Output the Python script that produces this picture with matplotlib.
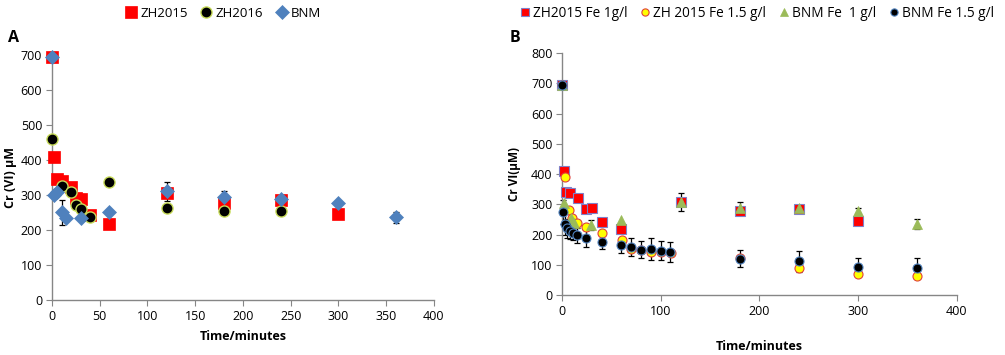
import numpy as np
import matplotlib.pyplot as plt

plt.rcParams['font.family'] = ['Open Sans', 'DejaVu Sans']

# ---- panel A data ----
a_zh15_t = [0, 2, 5, 10, 20, 25, 30, 40, 60, 120, 180, 240, 300]
a_zh15_v = [695, 410, 345, 340, 322, 290, 288, 243, 217, 305, 278, 285, 247]
a_zh15_e = [0, 0, 0, 0, 0, 0, 0, 12, 0, 0, 0, 0, 0]

a_zh16_t = [0, 10, 20, 25, 30, 40, 60, 120, 180, 240]
a_zh16_v = [460, 327, 309, 271, 259, 236, 338, 263, 253, 253]

a_bnm_t = [0, 2, 5, 10, 15, 30, 60, 120, 180, 240, 300, 360]
a_bnm_v = [695, 300, 308, 250, 233, 233, 252, 310, 293, 288, 278, 236]
a_bnm_e = [0, 0, 0, 35, 0, 0, 0, 28, 19, 0, 0, 15]

# ---- panel B data ----
b_zh1_t = [0, 2, 3.5, 7.5, 16, 24, 30, 40, 60, 120, 180, 240, 300]
b_zh1_v = [695, 410, 342, 338, 320, 285, 287, 240, 217, 306, 278, 285, 245]
b_zh1_e = [0, 0, 0, 0, 0, 0, 0, 13, 0, 0, 0, 0, 0]

b_zh15_t = [0, 2.5, 7, 10, 15, 24, 40, 61, 70, 80, 90, 100, 110, 180, 240, 300, 360]
b_zh15_v = [695, 391, 281, 254, 237, 226, 204, 182, 151, 149, 143, 143, 138, 121, 88, 69, 63]

b_bnm1_t = [0, 2, 8.5, 12, 29, 60, 120, 180, 240, 300, 360]
b_bnm1_v = [695, 303, 253, 239, 231, 248, 308, 288, 287, 278, 235]
b_bnm1_e = [0, 0, 0, 0, 17, 0, 29, 20, 0, 8, 16]

b_bnm15_t = [0, 0.5, 2.5, 5, 8, 11, 15, 24, 40, 60, 70, 80, 90, 100, 109, 180, 240, 300, 360]
b_bnm15_v = [695, 275, 235, 220, 212, 206, 198, 187, 176, 165, 160, 149, 152, 147, 143, 120, 112, 94, 88]
b_bnm15_e = [0, 40, 35, 30, 28, 25, 25, 27, 25, 25, 30, 28, 35, 32, 33, 28, 35, 27, 33]

gray = '#868686'


def err(ax, t, v, e):
    t, v, e = np.array(t), np.array(v), np.array(e)
    m = e > 0
    ax.errorbar(t[m], v[m], yerr=e[m], fmt='none', ecolor='black',
                elinewidth=0.9, capsize=2.5, capthick=0.9, zorder=2, clip_on=False)


def style(ax, ymax, ystep):
    for s in ['top', 'right']:
        ax.spines[s].set_visible(False)
    for s in ['left', 'bottom']:
        ax.spines[s].set_color(gray)
        ax.spines[s].set_linewidth(1.0)
    ax.set_xlim(0, 400)
    ax.set_ylim(0, ymax)
    ax.set_yticks(np.arange(0, ymax + 1, ystep))
    ax.tick_params(direction='out', length=4, color=gray, labelsize=9, pad=3)


fig = plt.figure(figsize=(10.05, 3.55), dpi=100)

# ---- A ----
axA = fig.add_axes([0.0517, 0.155, 0.380, 0.690])
style(axA, 700, 100)
axA.set_xticks(np.arange(0, 401, 50))
err(axA, a_zh15_t, a_zh15_v, a_zh15_e)
err(axA, a_bnm_t, a_bnm_v, a_bnm_e)
hA = []
hA += axA.plot(a_zh15_t, a_zh15_v, 's', ms=8.5, mfc='#ff0000', mec='#ff0000', mew=0.5,
               label='ZH2015', zorder=3, clip_on=False)
hA += axA.plot(a_zh16_t, a_zh16_v, 'o', ms=8, mfc='black', mec='#c8dc5a', mew=1.0,
               label='ZH2016', zorder=4, clip_on=False)
hA += axA.plot(a_bnm_t, a_bnm_v, 'D', ms=7, mfc='#4f81bd', mec='#4f81bd', mew=0.5,
               label='BNM', zorder=5, clip_on=False)
axA.set_xlabel('Time/minutes', fontsize=9, fontweight='bold', labelpad=5)
axA.set_ylabel('Cr (VI) µM', fontsize=9, fontweight='bold', labelpad=3)
fig.legend(handles=hA, loc='center', bbox_to_anchor=(0.2224, 0.963),
           ncol=3, frameon=False, fontsize=9.5, handlelength=0.8, handletextpad=0.3,
           columnspacing=1.0, borderaxespad=0, borderpad=0)
fig.text(0.008, 0.882, 'A', fontsize=11.5, fontweight='bold')

# ---- B ----
axB = fig.add_axes([0.5595, 0.169, 0.3924, 0.6817])
style(axB, 800, 100)
axB.set_xticks(np.arange(0, 401, 100))
err(axB, b_zh1_t, b_zh1_v, b_zh1_e)
err(axB, b_bnm1_t, b_bnm1_v, b_bnm1_e)
err(axB, b_bnm15_t, b_bnm15_v, b_bnm15_e)
hB = []
hB += axB.plot(b_zh1_t, b_zh1_v, 's', ms=6.5, mfc='#ff0000', mec='#8080c8', mew=0.8,
               label='ZH2015 Fe 1g/l', zorder=3, clip_on=False)
hB += axB.plot(b_zh15_t, b_zh15_v, 'o', ms=6.5, mfc='#ffff00', mec='#e0403a', mew=0.8,
               label='ZH 2015 Fe 1.5 g/l', zorder=4, clip_on=False)
hB += axB.plot(b_bnm1_t, b_bnm1_v, '^', ms=7, mfc='#9bbb59', mec='#9bbb59', mew=0.5,
               label='BNM Fe  1 g/l', zorder=5, clip_on=False)
hB += axB.plot(b_bnm15_t, b_bnm15_v, 'o', ms=6.5, mfc='black', mec='#4f81bd', mew=0.8,
               label='BNM Fe 1.5 g/l', zorder=6, clip_on=False)
axB.set_xlabel('Time/minutes', fontsize=9, fontweight='bold', labelpad=16)
axB.set_ylabel('Cr VI(µM)', fontsize=8.5, fontweight='bold', labelpad=7)
fig.legend(handles=hB, loc='center', bbox_to_anchor=(0.7535, 0.963),
           ncol=4, frameon=False, fontsize=9.8, handlelength=0.6, handletextpad=0.3,
           columnspacing=1.0, borderaxespad=0, borderpad=0, markerscale=0.8)
fig.text(0.507, 0.882, 'B', fontsize=11.5, fontweight='bold')

fig.savefig('out.png', dpi=100)
